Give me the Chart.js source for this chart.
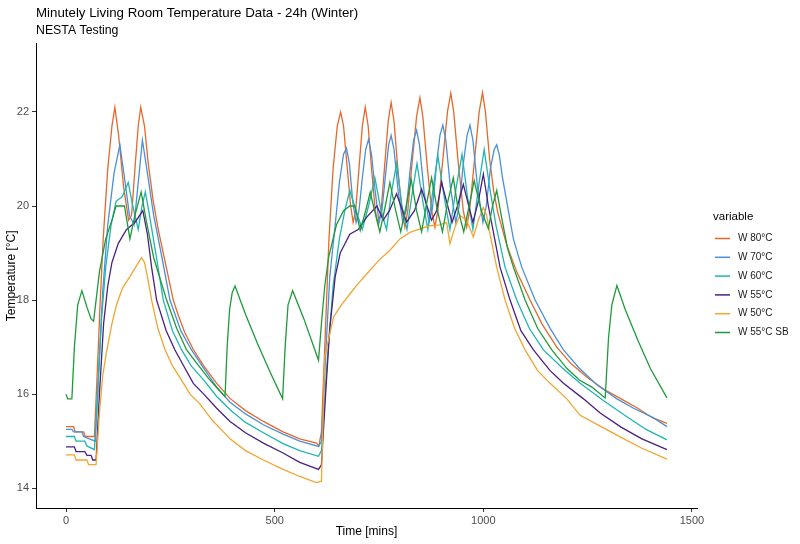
<!DOCTYPE html>
<html>
<head>
<meta charset="utf-8">
<script src="https://cdn.jsdelivr.net/npm/chart.js@4/dist/chart.umd.min.js"></script>
<style>
body{margin:0;background:#fff}
#wrap{width:800px;height:544px}
</style>
</head>
<body>
<div id="wrap"><canvas id="tempChart"></canvas></div>
<script>
// minutes / temperature readings per series
const w80Min = [0,18,22,42,46,68,74,82,89,100,110,117,126,138,150,157,166,173,179,188,197,209,221,233,245,257,270,285,305,330,361,393,430,473,520,560,600,606,612,620,630,640,650,658,665,673,682,688,694,702,710,717,724,732,741,748,755,763,772,779,786,795,805,812,819,829,840,848,855,865,876,884,891,902,914,922,929,940,952,960,967,978,990,998,1005,1015,1025,1035,1055,1080,1112,1140,1176,1210,1250,1290,1330,1370,1405,1440]
const w80Temp = [15.31,15.31,15.2,15.2,15.1,15.1,16.3,18.0,19.3,20.8,21.7,22.1,21.5,20.4,19.7,19.8,20.9,21.7,22.1,21.7,20.9,20.1,19.5,19.0,18.5,18.0,17.65,17.3,16.95,16.6,16.23,15.91,15.65,15.42,15.2,15.05,14.96,14.9,15.2,17.0,19.3,20.8,21.7,22.0,21.7,20.9,20.0,19.65,19.9,20.8,21.7,22.1,21.7,20.8,19.9,19.6,19.9,20.8,21.8,22.2,21.8,20.8,19.9,19.55,19.9,20.9,21.9,22.3,21.9,20.9,19.9,19.55,19.9,20.9,22.0,22.4,22.0,20.9,19.9,19.55,19.9,20.9,22.0,22.41,22.0,21.0,20.3,19.85,19.2,18.6,18.0,17.5,17.0,16.65,16.35,16.1,15.9,15.7,15.5,15.38]

const w70Min = [0,14,18,38,42,70,78,88,100,115,129,140,152,163,173,183,195,210,230,249,275,300,330,361,393,430,473,520,560,605,612,622,632,645,655,665,672,679,687,695,702,710,718,725,732,741,750,757,766,773,779,786,796,807,815,825,833,840,847,858,870,878,888,896,903,910,921,934,942,952,961,968,975,986,999,1007,1017,1026,1032,1038,1046,1056,1072,1092,1124,1160,1192,1230,1272,1320,1360,1407,1440]
const w70Temp = [15.25,15.25,15.2,15.2,15.1,15.0,16.5,18.2,19.6,20.7,21.3,20.6,19.8,19.6,20.5,21.4,20.7,19.8,18.9,18.0,17.35,16.95,16.55,16.15,15.83,15.58,15.35,15.15,15.0,14.89,15.0,16.8,18.5,19.6,20.5,21.1,21.23,20.9,20.1,19.65,19.9,20.6,21.2,21.42,21.1,20.3,19.65,19.9,20.7,21.3,21.5,21.2,20.3,19.65,19.9,20.8,21.4,21.61,21.3,20.3,19.65,19.95,20.9,21.5,21.72,21.4,20.4,19.65,20.0,20.9,21.5,21.72,21.4,20.4,19.65,20.0,20.8,21.2,21.3,21.1,20.6,20.1,19.3,18.7,18.0,17.4,16.94,16.55,16.2,15.9,15.7,15.5,15.31]

const w60Min = [0,20,24,45,50,68,76,85,95,108,120,135,149,160,173,182,190,200,215,233,255,277,300,330,361,393,430,473,520,560,605,612,625,640,655,668,680,695,710,725,740,755,768,780,792,805,817,830,841,855,867,880,891,906,920,935,949,962,975,990,1002,1015,1030,1052,1080,1110,1144,1190,1232,1290,1344,1390,1440]
const w60Temp = [15.1,15.1,15.0,15.0,14.9,14.82,16.0,17.6,18.7,19.6,20.1,20.2,20.5,20.0,19.5,20.0,20.3,19.8,19.0,18.0,17.35,16.94,16.6,16.3,15.95,15.67,15.4,15.18,14.95,14.8,14.68,14.8,16.6,18.3,19.3,19.9,20.33,19.9,19.5,20.0,20.6,19.9,19.5,20.3,20.9,20.0,19.5,20.3,20.9,20.1,19.5,20.4,21.07,20.2,19.5,20.4,21.1,20.2,19.5,20.5,21.2,20.4,19.6,18.7,18.0,17.4,16.94,16.55,16.23,15.85,15.52,15.25,15.03]

const w55Min = [0,20,24,45,50,60,64,72,80,90,100,110,125,145,165,184,195,205,217,240,261,285,305,330,361,393,430,473,520,560,605,612,622,632,645,657,680,700,720,745,760,775,792,816,835,852,876,888,900,925,938,952,975,988,1000,1012,1025,1040,1064,1090,1120,1160,1192,1240,1280,1330,1380,1440]
const w55Temp = [14.88,14.88,14.78,14.78,14.7,14.7,14.6,14.6,16.0,17.5,18.3,18.8,19.2,19.5,19.65,19.9,19.4,18.7,18.0,17.35,16.94,16.55,16.23,16.0,15.7,15.42,15.18,14.96,14.75,14.55,14.4,14.5,16.0,17.4,18.5,19.0,19.4,19.5,19.76,20.0,19.7,19.9,20.26,19.66,19.9,20.36,19.7,19.9,20.5,19.65,20.0,20.46,19.65,20.1,20.68,20.0,19.4,18.7,18.0,17.35,16.94,16.5,16.23,15.9,15.6,15.3,15.05,14.82]

const w50Min = [0,20,24,50,54,72,80,88,97,110,121,135,153,170,181,188,195,205,220,237,255,273,297,320,350,393,430,473,520,560,600,612,620,641,660,681,700,721,750,776,800,824,850,872,895,912,920,932,944,960,976,988,1000,1008,1016,1032,1052,1075,1100,1130,1160,1200,1232,1280,1330,1380,1440]
const w50Temp = [14.71,14.71,14.6,14.6,14.5,14.5,15.6,16.4,16.9,17.5,17.9,18.25,18.5,18.75,18.9,18.8,18.5,18.0,17.4,16.95,16.6,16.35,16.0,15.8,15.45,15.05,14.8,14.6,14.4,14.25,14.12,14.15,16.8,17.64,17.9,18.14,18.35,18.56,18.85,19.06,19.3,19.44,19.52,19.58,19.6,19.65,19.2,19.55,19.8,19.7,19.34,19.7,19.97,19.8,19.4,18.7,18.0,17.4,16.94,16.5,16.23,15.9,15.55,15.32,15.08,14.85,14.62]

const sbMin = [0,4,14,20,28,38,50,60,66,72,80,95,110,120,140,153,165,180,192,210,241,265,289,313,340,365,381,386,392,398,405,430,460,490,519,525,532,543,570,590,605,612,620,629,648,665,680,692,705,718,729,742,752,765,776,790,802,815,827,840,852,865,876,890,902,915,928,940,953,966,978,995,1012,1022,1032,1045,1058,1072,1100,1130,1164,1200,1230,1260,1292,1300,1308,1320,1340,1370,1400,1440]
const sbTemp = [16.0,15.9,15.9,17.0,17.9,18.2,17.85,17.6,17.55,18.0,18.6,19.3,19.7,20.0,20.0,19.3,19.8,20.3,19.7,18.9,18.0,17.4,16.94,16.66,16.35,16.1,15.95,17.0,17.8,18.15,18.3,17.7,17.05,16.45,15.9,17.0,17.9,18.2,17.6,17.1,16.72,17.5,18.3,18.9,19.6,19.9,20.0,20.0,19.48,19.9,20.29,19.8,19.45,20.0,20.5,19.9,19.45,20.0,20.57,19.9,19.45,20.1,20.6,19.9,19.45,20.1,20.6,19.9,19.45,20.0,20.54,19.9,19.52,20.0,20.33,19.7,19.1,18.7,18.0,17.4,16.94,16.55,16.3,16.15,15.92,17.2,17.9,18.31,17.8,17.15,16.55,15.92]

const seriesNames = ["W 80°C","W 70°C","W 60°C","W 55°C","W 50°C","W 55°C SB"]
const seriesColors = ["#E4692B","#4A90D9","#20B5B0","#4A2082","#F2A531","#1F9A3A"]
const xTicks = [0,500,1000,1500]
const yTicks = [14,16,18,20,22]

const mins = [w80Min,w70Min,w60Min,w55Min,w50Min,sbMin]
const temps = [w80Temp,w70Temp,w60Temp,w55Temp,w50Temp,sbTemp]

const fontFam = "'Liberation Sans', Arial, sans-serif"

const ctx = document.getElementById("tempChart")

const datasets = seriesNames.map((name,i)=>({
label:name,
data:mins[i].map((m,j)=>({x:m,y:temps[i][j]})),
borderColor:seriesColors[i],
backgroundColor:seriesColors[i],
borderWidth:1.3,
pointRadius:0,
tension:0,
order:6-i
}))

// legend drawn on the right like the ggplot guide
const sideLegend = {
id:"sideLegend",
afterDraw(chart){
const c = chart.ctx
const x0 = chart.chartArea.right + 18
c.save()
c.textBaseline = "middle"
c.fillStyle = "#000"
c.font = "11.5px " + fontFam
c.fillText("variable", x0 - 2, 217)
c.font = "10px " + fontFam
chart.data.datasets.forEach((ds,i)=>{
const y = 238.5 + i*18.8
c.strokeStyle = ds.borderColor
c.lineWidth = 1.5
c.beginPath()
c.moveTo(x0, y)
c.lineTo(x0 + 15, y)
c.stroke()
c.fillStyle = "#1a1a1a"
c.fillText(ds.label, x0 + 23, y)
})
c.restore()
}
}

Chart.defaults.font.family = fontFam

new Chart(ctx,{
type:"line",
data:{datasets:datasets},
plugins:[sideLegend],
options:{
responsive:true,
maintainAspectRatio:false,
animation:false,
layout:{padding:{right:103}},
plugins:{
title:{display:true,text:"Minutely Living Room Temperature Data - 24h (Winter)",align:"start",fullSize:false,color:"#000",font:{size:13.3,weight:"normal"},padding:{top:5,bottom:2}},
subtitle:{display:true,text:"NESTA Testing",align:"start",fullSize:false,color:"#000",font:{size:12.3},padding:{top:0,bottom:6}},
legend:{display:false},
tooltip:{enabled:false}
},
scales:{
x:{
type:"linear",
min:-72,
max:1512,
afterBuildTicks:s=>{s.ticks=xTicks.map(v=>({value:v}))},
afterFit:s=>{s.height=36},
grid:{drawOnChartArea:false,tickLength:4,color:"#333"},
border:{display:true,color:"#000",width:1},
ticks:{color:"#4d4d4d",font:{size:11},padding:2,maxRotation:0,callback:v=>String(v)},
title:{display:true,text:"Time [mins]",color:"#000",font:{size:12},padding:{top:0,bottom:5}}
},
y:{
type:"linear",
min:13.58,
max:23.45,
afterBuildTicks:s=>{s.ticks=yTicks.map(v=>({value:v}))},
afterFit:s=>{s.width=36},
grid:{drawOnChartArea:false,tickLength:4,color:"#333"},
border:{display:true,color:"#000",width:1},
ticks:{color:"#4d4d4d",font:{size:11},padding:3,callback:v=>String(v)},
title:{display:true,text:"Temperature [°C]",color:"#000",font:{size:12},padding:{top:4,bottom:0}}
}
}
}
})
</script>
</body>
</html>
